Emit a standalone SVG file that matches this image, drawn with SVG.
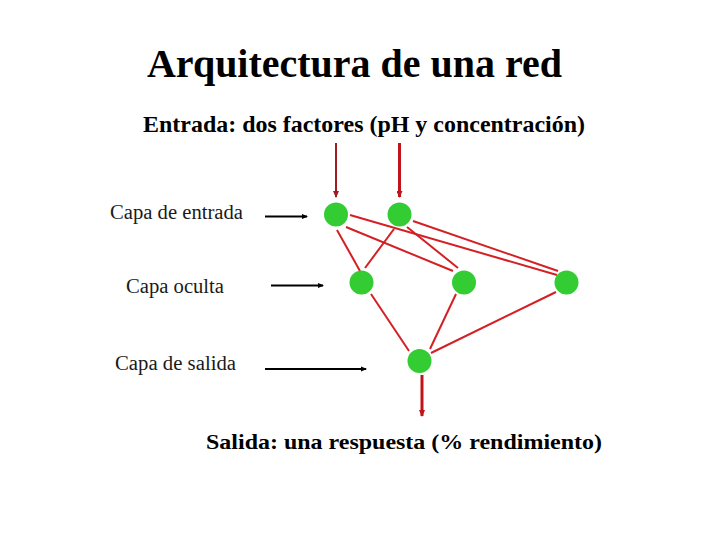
<svg xmlns="http://www.w3.org/2000/svg" width="720" height="540" viewBox="0 0 720 540">
<defs>
<style>
.t{font-family:"Liberation Serif","Times New Roman",serif;font-weight:bold;fill:#000}
.lbl{font-family:"Liberation Serif","Times New Roman",serif;font-size:20px;fill:#1a1a1a}
.node{fill:#33cc33}
.e{stroke:#d42024;stroke-width:2;fill:none}
.blk{stroke:#000;stroke-width:2;fill:none}
</style>
<marker id="ab" markerWidth="6" markerHeight="6" refX="5" refY="3" orient="auto" markerUnits="userSpaceOnUse"><path d="M0,0.5 L6,3 L0,5.5 Z" fill="#000"/></marker>
<marker id="ar" markerWidth="7" markerHeight="6" refX="6" refY="3" orient="auto" markerUnits="userSpaceOnUse"><path d="M0,0 L7,3 L0,6 Z" fill="#c0141c"/></marker>
<marker id="ad" markerWidth="7" markerHeight="6" refX="6" refY="3" orient="auto" markerUnits="userSpaceOnUse"><path d="M0,0 L7,3 L0,6 Z" fill="#9e1c20"/></marker>
</defs>
<rect width="720" height="540" fill="#fff"/>
<text class="t" x="147" y="77" font-size="40" textLength="415" lengthAdjust="spacingAndGlyphs">Arquitectura de una red</text>
<text class="t" x="143" y="132" font-size="23" textLength="442" lengthAdjust="spacingAndGlyphs">Entrada: dos factores (pH y concentración)</text>
<text class="t" x="206" y="449" font-size="22" textLength="396" lengthAdjust="spacingAndGlyphs">Salida: una respuesta (% rendimiento)</text>
<g id="labels">
<text class="lbl" x="110" y="219" textLength="133" lengthAdjust="spacingAndGlyphs">Capa de entrada</text>
<text class="lbl" x="126" y="293" textLength="98" lengthAdjust="spacingAndGlyphs">Capa oculta</text>
<text class="lbl" x="115" y="370" textLength="121" lengthAdjust="spacingAndGlyphs">Capa de salida</text>
</g>
<g id="connectors">
<line class="blk" x1="265" y1="216.5" x2="307" y2="216.5" marker-end="url(#ab)"/>
<line class="blk" x1="271" y1="285.5" x2="323" y2="285.5" marker-end="url(#ab)"/>
<line class="blk" x1="265" y1="369" x2="366" y2="369" marker-end="url(#ab)"/>
<line x1="336" y1="143" x2="336" y2="197" stroke="#9e1c20" stroke-width="2" marker-end="url(#ad)"/>
<line x1="399.5" y1="143" x2="399.5" y2="197" stroke="#c0141c" stroke-width="3" marker-end="url(#ar)"/>
<line x1="422" y1="375" x2="422" y2="416" stroke="#c0141c" stroke-width="3" marker-end="url(#ar)"/>
<line class="e" x1="337" y1="230" x2="360" y2="271"/>
<line class="e" x1="346" y1="227" x2="453" y2="271"/>
<line class="e" x1="350" y1="215" x2="557" y2="275"/>
<line class="e" x1="394" y1="229" x2="365" y2="268"/>
<line class="e" x1="407" y1="227" x2="458" y2="268"/>
<line class="e" x1="413" y1="221" x2="558" y2="271"/>
<line class="e" x1="371" y1="294" x2="409" y2="351"/>
<line class="e" x1="456" y1="294" x2="430" y2="349"/>
<line class="e" x1="556" y1="292" x2="431" y2="353"/>
</g>
<g id="in1"><circle class="node" cx="336" cy="214.5" r="12"/></g>
<g id="in2"><circle class="node" cx="399.5" cy="214.5" r="12"/></g>
<g id="h1"><circle class="node" cx="361.5" cy="282.5" r="12"/></g>
<g id="h2"><circle class="node" cx="464" cy="282.5" r="12"/></g>
<g id="h3"><circle class="node" cx="566.5" cy="282.5" r="12"/></g>
<g id="out"><circle class="node" cx="419.5" cy="361" r="12"/></g>
</svg>
